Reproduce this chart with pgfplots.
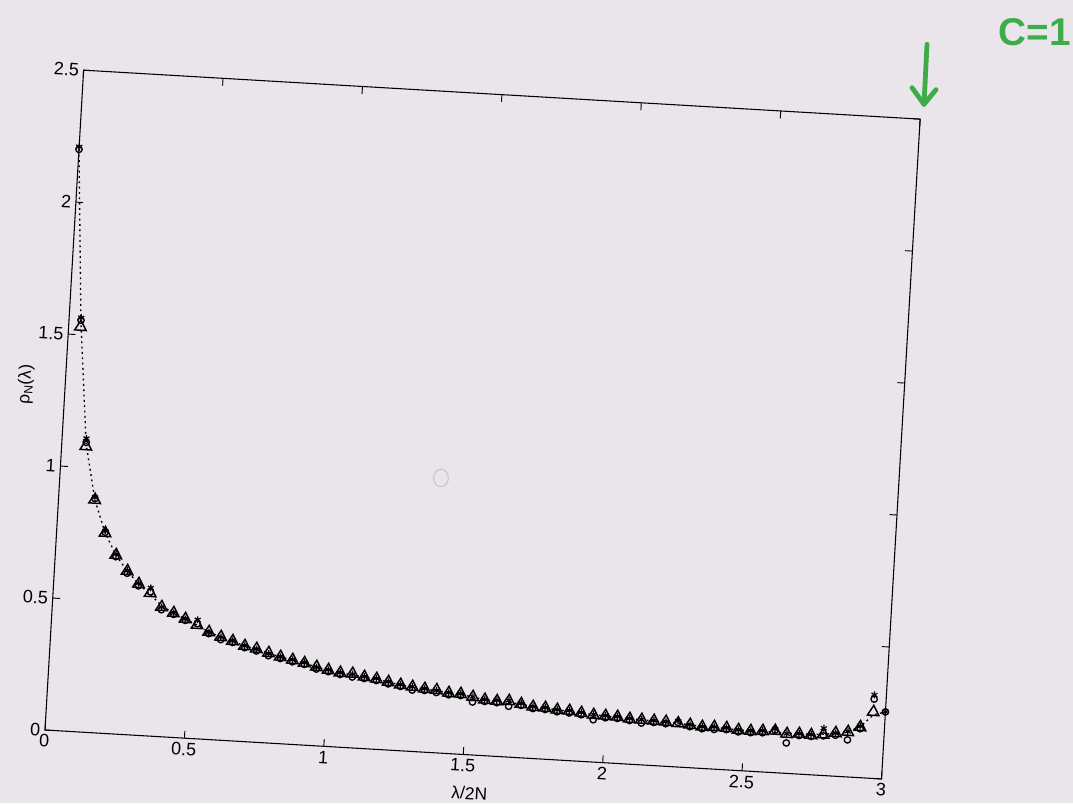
\documentclass[border=0pt]{standalone}
\usepackage{fontspec}
\setmainfont{Liberation Sans}
\usepackage{pgfplots}
\usepackage{pgfplotstable}
\pgfplotsset{compat=1.18}
\definecolor{paper}{RGB}{233,229,234}
\definecolor{pen}{RGB}{62,172,72}
\definecolor{pencil}{RGB}{205,195,185}

\pgfplotstableread{
x tri circ star th
0.000 nan 2.200 2.210 2.200
0.043 1.530 1.555 1.565 1.550
0.087 1.080 1.095 1.110 1.090
0.130 0.880 0.885 0.890 0.880
0.174 0.757 0.760 0.765 0.757
0.217 0.676 0.670 0.680 0.676
0.261 0.618 0.610 0.620 0.618
0.304 0.572 0.565 0.575 0.572
0.348 0.540 0.545 0.560 0.535
0.391 0.490 0.480 0.490 0.495
0.435 0.470 0.465 0.470 0.470
0.478 0.450 0.445 0.450 0.450
0.522 0.430 0.435 0.450 0.430
0.565 0.406 0.400 0.405 0.406
0.609 0.390 0.380 0.390 0.390
0.652 0.377 0.372 0.378 0.377
0.696 0.361 0.355 0.362 0.361
0.739 0.353 0.345 0.352 0.353
0.783 0.340 0.330 0.338 0.340
0.826 0.328 0.322 0.328 0.328
0.870 0.319 0.312 0.320 0.319
0.913 0.310 0.305 0.312 0.310
0.957 0.298 0.290 0.297 0.298
1.000 0.289 0.283 0.290 0.289
1.043 0.281 0.275 0.282 0.281
1.087 0.280 0.268 0.279 0.276
1.130 0.271 0.265 0.272 0.271
1.174 0.266 0.260 0.268 0.266
1.217 0.257 0.250 0.258 0.257
1.261 0.249 0.243 0.250 0.249
1.304 0.244 0.232 0.245 0.244
1.348 0.239 0.233 0.240 0.239
1.391 0.237 0.228 0.236 0.235
1.435 0.229 0.222 0.230 0.229
1.478 0.228 0.222 0.229 0.226
1.522 0.219 0.200 0.220 0.219
1.565 0.211 0.205 0.212 0.212
1.609 0.209 0.203 0.212 0.209
1.652 0.212 0.192 0.214 0.207
1.696 0.203 0.198 0.206 0.203
1.739 0.195 0.189 0.196 0.196
1.783 0.194 0.188 0.195 0.194
1.826 0.189 0.182 0.190 0.189
1.870 0.188 0.180 0.190 0.187
1.913 0.183 0.176 0.185 0.183
1.957 0.178 0.160 0.180 0.179
2.000 0.177 0.170 0.178 0.177
2.043 0.176 0.170 0.177 0.175
2.087 0.171 0.165 0.173 0.172
2.130 0.170 0.158 0.172 0.170
2.174 0.169 0.163 0.170 0.169
2.217 0.168 0.161 0.168 0.167
2.261 0.165 0.168 0.174 0.165
2.304 0.162 0.155 0.162 0.162
2.348 0.157 0.150 0.158 0.159
2.391 0.159 0.150 0.160 0.158
2.435 0.158 0.152 0.159 0.156
2.478 0.153 0.146 0.154 0.154
2.522 0.152 0.146 0.153 0.153
2.565 0.155 0.148 0.156 0.153
2.609 0.158 0.160 0.165 0.153
2.652 0.149 0.115 0.150 0.152
2.696 0.152 0.146 0.153 0.152
2.739 0.150 0.145 0.152 0.153
2.783 0.155 0.150 0.179 0.156
2.826 0.163 0.155 0.163 0.162
2.870 0.170 0.140 0.172 0.172
2.913 0.191 0.185 0.195 0.192
2.957 0.251 0.300 0.316 0.240
3.000 nan 0.254 0.254 0.254
}\datatable

\begin{document}
\begin{tikzpicture}
\fill[paper] (0pt,0pt) rectangle (804.75pt,602.25pt);
\useasboundingbox (0pt,0pt) rectangle (804.75pt,602.25pt);
% handwritten annotations on the scanned page
\node[pen, anchor=west, font=\fontsize{29}{31}\selectfont\bfseries, inner sep=0pt] at (749pt,578pt) {C=1};
\draw[pen, line width=3.6pt, line cap=round, line join=round] (695.25pt,569pt) -- (693pt,524pt);
\draw[pen, line width=3.6pt, line cap=round, line join=round] (684pt,536.5pt) -- (693pt,524pt) -- (702pt,535pt);
\draw[pencil, line width=0.8pt] (330.75pt,243.75pt) ellipse (5.5pt and 6.5pt);
\begin{scope}[shift={(33.75pt,54.75pt)}, rotate=-3.35, transform shape]
\begin{axis}[
  at={(0pt,0pt)}, anchor=south west,
  scale only axis, width=628.5pt, height=495.75pt,
  xmin=0, xmax=3, ymin=0, ymax=2.5,
  xtick={0,0.5,1,1.5,2,2.5,3},
  ytick={0,0.5,1,1.5,2,2.5},
  tick align=inside,
  major tick length=5.5pt,
  axis line style={line width=0.8pt},
  every tick/.style={black, line width=0.7pt},
  /pgf/number format/assume math mode=true,
  tick label style={font=\fontsize{13.5}{16}\selectfont},
  xlabel={λ/2N},
  ylabel={ρ\textsubscript{N}(λ)},
  label style={font=\fontsize{13}{15}\selectfont},
  xlabel style={at={(axis description cs:0.51,-0.058)}, anchor=center},
  ylabel style={at={(axis description cs:-0.047,0.52)}, anchor=center, rotate=0},
  clip=false,
]
\addplot[black, line width=1pt, dash pattern=on 1.4pt off 2.6pt] table[x=x, y=th] {\datatable};
\addplot[only marks, mark=triangle, mark size=5pt, black, mark options={line width=1.1pt}] table[x=x, y=tri] {\datatable};
\addplot[only marks, mark=o, mark size=2.4pt, black, mark options={line width=1pt}] table[x=x, y=circ] {\datatable};
\addplot[only marks, mark=asterisk, mark size=2.6pt, black, mark options={line width=0.9pt}] table[x=x, y=star] {\datatable};
\end{axis}
\end{scope}
\end{tikzpicture}
\end{document}
